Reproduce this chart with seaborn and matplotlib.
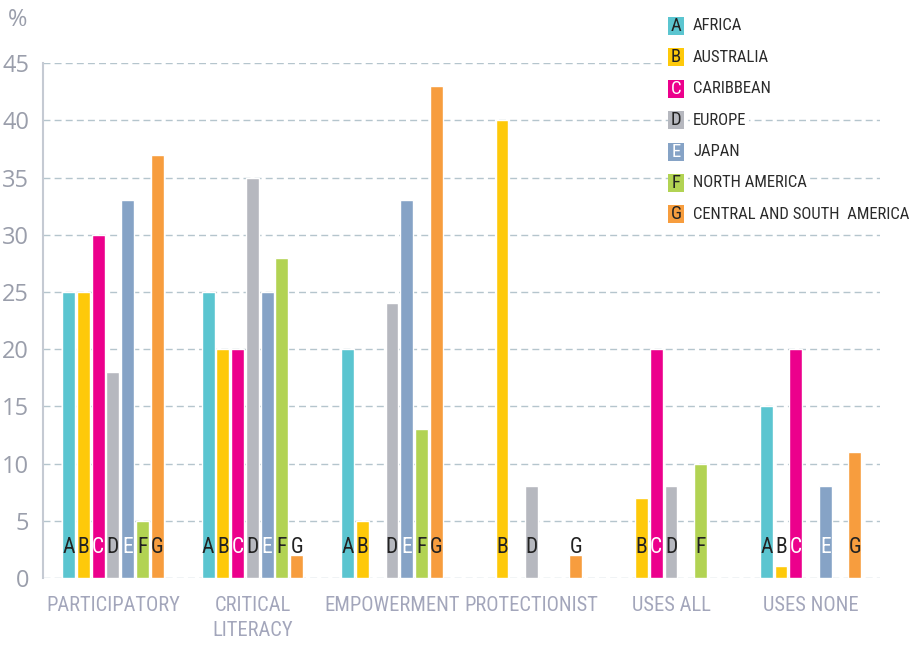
import pandas as pd
import numpy as np
import matplotlib
matplotlib.use("Agg")
import matplotlib.pyplot as plt
import seaborn as sns
from matplotlib.patches import Rectangle
from matplotlib import font_manager

# %% data
categories = ["PARTICIPATORY", "CRITICAL\nLITERACY", "EMPOWERMENT",
              "PROTECTIONIST", "USES ALL", "USES NONE"]
letters = ["A", "B", "C", "D", "E", "F", "G"]
regions = ["AFRICA", "AUSTRALIA", "CARIBBEAN", "EUROPE", "JAPAN",
           "NORTH AMERICA", "CENTRAL AND SOUTH  AMERICA"]
colors = ["#5bc5d0", "#fec90a", "#ec008c", "#b6b8bf", "#86a3c6", "#b2d353", "#f79d3e"]
letter_colors = ["#222222", "#222222", "white", "#222222", "white", "#222222", "#222222"]

africa = [25, 25, 20, 0, 0, 15]
australia = [25, 20, 5, 40, 7, 1]
caribbean = [30, 20, 0, 0, 20, 20]
europe = [18, 35, 24, 8, 8, 0]
japan = [33, 25, 33, 0, 0, 8]
north_america = [5, 28, 13, 0, 10, 0]
central_south_america = [37, 2, 43, 2, 0, 11]
series = [africa, australia, caribbean, europe, japan, north_america, central_south_america]

df = pd.DataFrame({
    "category": np.tile(categories, len(letters)),
    "region": np.repeat(letters, len(categories)),
    "pct": np.concatenate(series),
})

# %% pick the narrowest font that is installed
installed = {f.name for f in font_manager.fontManager.ttflist}
cond = None
for name in ["Roboto Condensed", "Liberation Sans Narrow", "Open Sans Condensed",
             "Noto Sans Condensed", "DejaVu Sans Condensed"]:
    if name in installed:
        cond = name
        break
narrow = [cond if cond else "Roboto", "DejaVu Sans"]
shrink = 1.0 if cond else 0.82

# %% plot
sns.set_style("white")
fig = plt.figure(figsize=(9.17, 6.45), dpi=100)
ax = fig.add_axes([0.047, 0.104, 0.913, 0.798])

sns.barplot(data=df, x="category", y="pct", hue="region", order=categories,
            hue_order=letters, palette=colors, width=0.74, gap=0.13,
            saturation=1, legend=False, ax=ax, zorder=3)

# letters at the foot of every non-zero bar
for cont, let, lc in zip(ax.containers, letters, letter_colors):
    for p in cont.patches:
        if p.get_height() > 0:
            ax.text(p.get_x() + p.get_width() / 2, 2.7, let, ha="center", va="center",
                    color=lc, fontsize=15.5 * shrink, family=narrow, zorder=4)

ax.set_ylim(0, 45)
ax.set_yticks(range(0, 46, 5))
ax.set_xlim(-0.5, 5.5)
ax.grid(axis="y", color="#b5c5cd", linestyle=(0, (5, 3)), linewidth=1, zorder=0)
ax.grid(axis="x", visible=False)
for s in ["top", "right", "bottom"]:
    ax.spines[s].set_visible(False)
ax.spines["left"].set_color("#c5cad3")
ax.spines["left"].set_linewidth(1.5)
ax.spines["left"].set_zorder(5)
ax.tick_params(axis="y", length=0, pad=10, labelsize=17, labelcolor="#9a9eab")
ax.tick_params(axis="x", length=0, pad=13, labelsize=14.8 * shrink, labelcolor="#a3a6bb")
for t in ax.get_yticklabels():
    t.set_family(["Open Sans", "DejaVu Sans"])
for t in ax.get_xticklabels():
    t.set_family(narrow)
    t.set_linespacing(1.4)
    t.set_va("top")
ax.set_xlabel("")
ax.set_ylabel("")

fig.text(18 / 917, 1 - 20 / 645, "%", fontsize=17, color="#9a9eab", ha="center", va="center",
         family=["Open Sans", "DejaVu Sans"])

# legend drawn by hand: coloured squares with the letter inside
fig.add_artist(Rectangle((662 / 917, 1 - 72 / 645), 255 / 917, 62 / 645,
                         transform=fig.transFigure, facecolor="white", edgecolor="none", zorder=6))
for i, (let, reg, c, lc) in enumerate(zip(letters, regions, colors, letter_colors)):
    yc = 26 + i * 31.4
    fig.add_artist(Rectangle((668 / 917, 1 - (yc + 9) / 645), 16 / 917, 18 / 645,
                             transform=fig.transFigure, facecolor=c, edgecolor="none", zorder=7))
    fig.text(676 / 917, 1 - yc / 645, let, ha="center", va="center", fontsize=13.5 * shrink,
             color=lc, family=narrow, zorder=8)
    fig.text(693 / 917, 1 - yc / 645, reg, ha="left", va="center", fontsize=12 * shrink,
             color="#2b2b2b", family=narrow, zorder=8,
             bbox=dict(facecolor="white", edgecolor="none", pad=2))

fig.savefig("out.png", dpi=100)
